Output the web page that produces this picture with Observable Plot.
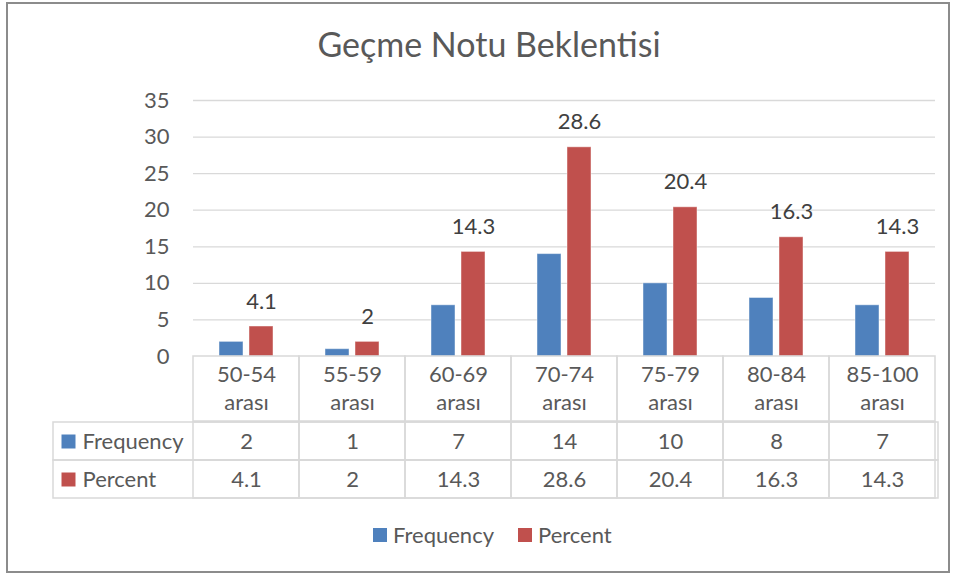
<!DOCTYPE html>
<html><head><meta charset="utf-8">
<script src="https://cdn.jsdelivr.net/npm/d3@7"></script>
<script src="https://cdn.jsdelivr.net/npm/@observablehq/plot@0.6"></script>
<style>
body{margin:0;background:#fff;font-family:Lato,sans-serif;color:#595959}
#wrap{position:relative;width:956px;height:576px;overflow:hidden;background:#fff}
.abs{position:absolute}
#legend{display:flex;align-items:center;font-size:22px;line-height:28px}
#legend .sw{width:14px;height:14px;display:inline-block;margin-right:6px}
#legend .item{display:flex;align-items:center;margin-right:24px}
</style></head><body>
<div id="wrap">
  <div class="abs" style="left:6px;top:2px;width:944px;height:571px;border:2px solid #8c8c8c;box-sizing:border-box"></div>
  <div id="title" class="abs" style="left:0;width:978px;top:27px;text-align:center;font-size:34px;line-height:34px;color:#595959"></div>
  <div id="chart" class="abs" style="left:0;top:80px"></div>
  <div id="thead" class="abs" style="left:0;top:356px"></div>
  <div id="tbody" class="abs" style="left:0;top:421px"></div>
  <div id="legend" class="abs" style="left:373px;top:521px;height:28px"></div>
</div>
<script>
const categories = ["50-54 arası","55-59 arası","60-69 arası","70-74 arası","75-79 arası","80-84 arası","85-100 arası"];
const seriesNames = ["Frequency","Percent"];
const frequency = [2,1,7,14,10,8,7];
const percent = [4.1,2,14.3,28.6,20.4,16.3,14.3];
const yTicks = [0,5,10,15,20,25,30,35];
const seriesColors = ["#4f81bd","#c0504d"];
const title = "Geçme Notu Beklentisi";

const rows = categories.flatMap((c,i)=>[
  {cat:c, series:"Frequency", value:frequency[i]},
  {cat:c, series:"Percent", value:percent[i]}
]);

const baseStyle = {background:"transparent", overflow:"visible", fontFamily:"Lato, sans-serif", fontSize:"22px", color:"#595959"};
const lineCol = "#d9d9d9";
const fs = 22;

document.getElementById("title").textContent = title;

const chart = Plot.plot({
  width:956, height:286, marginTop:20, marginBottom:10, marginLeft:190, marginRight:18,
  style: baseStyle,
  fx: {domain:categories, padding:0, axis:null, label:null},
  x: {domain:seriesNames, paddingInner:0.197, paddingOuter:0.85, axis:null},
  y: {domain:[0,35]},
  color: {domain:seriesNames, range:seriesColors},
  marks: [
    Plot.gridY(yTicks.slice(1), {stroke:lineCol, strokeOpacity:1, strokeWidth:1.3}),
    Plot.axisY(yTicks, {tickSize:0, tickPadding:24, fontSize:fs, fill:"#595959", label:null}),
    Plot.barY(rows, {fx:"cat", x:"series", y:"value", fill:"series", stroke:"#fff", strokeOpacity:0.45, strokeWidth:1}),
    Plot.text(rows.filter(d=>d.series==="Percent"), {fx:"cat", x:"series", y:"value", text:d=>String(d.value), dy:-25, fontSize:fs, fill:"#404040"})
  ]
});
document.getElementById("chart").append(chart);

const thead = Plot.plot({
  width:956, height:65, marginTop:0, marginBottom:0, marginLeft:190, marginRight:18,
  style: baseStyle,
  x: {domain:categories, padding:0, axis:null},
  marks: [
    Plot.cell(categories, {x:d=>d, fill:"none", stroke:lineCol, strokeWidth:1.5}),
    Plot.text(categories, {x:d=>d, text:d=>d.replace(" ", "\n"), lineHeight:1.27, fontSize:fs, dy:-2, fill:"#595959"})
  ]
});
document.getElementById("thead").append(thead);

const tbody = Plot.plot({
  width:956, height:78, marginTop:0, marginBottom:1, marginLeft:190, marginRight:18,
  style: baseStyle,
  x: {domain:categories, padding:0, axis:null},
  y: {domain:seriesNames, padding:0, axis:null},
  color: {domain:seriesNames, range:seriesColors},
  marks: [
    Plot.cell(seriesNames, {y:d=>d, fill:"none", stroke:lineCol, strokeWidth:1.5, insetLeft:-137}),
    Plot.cell(rows, {x:"cat", y:"series", fill:"none", stroke:lineCol, strokeWidth:1.5}),
    Plot.text(rows, {x:"cat", y:"series", text:d=>String(d.value), fontSize:fs, fill:"#595959"}),
    Plot.dot(seriesNames, {y:d=>d, fill:d=>d, symbol:"square", r:7.9, frameAnchor:"left", dx:-122}),
    Plot.text(seriesNames, {y:d=>d, text:d=>d, frameAnchor:"left", textAnchor:"start", dx:-108, fontSize:fs, fill:"#595959"})
  ]
});
document.getElementById("tbody").append(tbody);

const legend = document.getElementById("legend");
seriesNames.forEach((s,i)=>{
  const item = document.createElement("div");
  item.className = "item";
  const sw = document.createElement("span");
  sw.className = "sw";
  sw.style.background = seriesColors[i];
  const t = document.createElement("span");
  t.textContent = s;
  item.append(sw, t);
  legend.append(item);
});
</script>
</body></html>
